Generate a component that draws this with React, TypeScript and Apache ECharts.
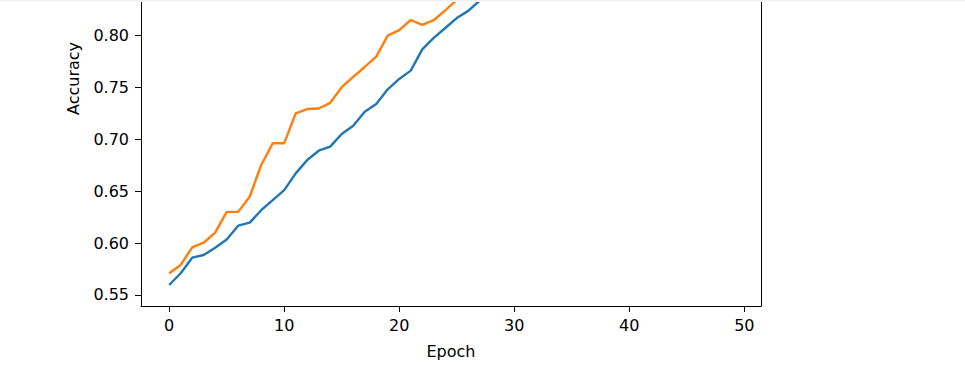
import React, { useEffect, useRef } from "react";
import * as echarts from "echarts";

// Epoch indices and accuracy values (the curves leave the visible area at the top)
const blueEpochs = [0, 1, 2, 3, 4, 5, 6, 7, 8, 9, 10, 11, 12, 13, 14, 15, 16, 17, 18, 19, 20, 21, 22, 23, 24, 25, 26, 27, 28];
const blueValues = [0.5596, 0.5709, 0.5859, 0.5885, 0.5955, 0.6035, 0.6167, 0.6196, 0.6316, 0.6414, 0.651, 0.6671, 0.68, 0.6889, 0.6928, 0.705, 0.713, 0.7264, 0.7338, 0.748, 0.758, 0.766, 0.7865, 0.7975, 0.807, 0.8166, 0.8235, 0.8335, 0.841];
const orangeEpochs = [0, 1, 2, 3, 4, 5, 6, 7, 8, 9, 10, 11, 12, 13, 14, 15, 16, 17, 18, 19, 20, 21, 22, 23, 24, 25, 26];
const orangeValues = [0.5709, 0.5789, 0.5959, 0.6003, 0.61, 0.63, 0.63, 0.6446, 0.6751, 0.696, 0.696, 0.7249, 0.729, 0.7295, 0.735, 0.75, 0.76, 0.7695, 0.7794, 0.7997, 0.805, 0.8147, 0.81, 0.8145, 0.824, 0.834, 0.842];
const xTicks = [0, 10, 20, 30, 40, 50];
const yTicks = [0.55, 0.6, 0.65, 0.7, 0.75, 0.8];

// The figure extends above the visible window: the chart div starts above the page top
const HIDDEN_TOP = 149;

export default function App() {
  const ref = useRef<HTMLDivElement>(null);
  useEffect(() => {
    document.body.style.margin = "0";
    document.body.style.overflow = "hidden";
    const chart = echarts.init(ref.current!, null, { renderer: "svg" });
    const font = "DejaVu Sans";
    const yMin = 0.5394;
    const yMax = 0.9774;
    chart.setOption({
      animation: false,
      backgroundColor: "#ffffff",
      graphic: [
        { type: "rect", shape: { x: 0, y: HIDDEN_TOP, width: 965, height: 1 }, style: { fill: "#f1f1f1" }, z: 100 },
        { type: "rect", shape: { x: 0, y: HIDDEN_TOP + 1, width: 965, height: 1 }, style: { fill: "#f9f9f9" }, z: 100 },
      ],
      grid: {
        left: 141,
        right: 204,
        top: 0,
        bottom: 61,
        show: false,
      },
      xAxis: {
        type: "value",
        min: -2.45,
        max: 51.45,
        name: "Epoch",
        nameLocation: "middle",
        nameGap: 37,
        nameTextStyle: { fontFamily: font, fontSize: 16, color: "#000" },
        splitLine: { show: false },
        axisLine: { show: true, onZero: false, lineStyle: { color: "#000", width: 1 } },
        axisTick: { show: true, length: 6, lineStyle: { color: "#000", width: 1 }, customValues: xTicks },
        axisLabel: {
          fontFamily: font,
          fontSize: 16,
          color: "#000",
          margin: 11,
          customValues: xTicks,
          formatter: (v: number) => String(v),
        },
      },
      yAxis: [
        {
          type: "value",
          position: "left",
          min: yMin,
          max: yMax,
          name: "Accuracy",
          nameLocation: "middle",
          nameGap: 60,
          nameTextStyle: { fontFamily: font, fontSize: 16, color: "#000" },
          splitLine: { show: false },
          axisLine: { show: true, onZero: false, lineStyle: { color: "#000", width: 1 } },
          axisTick: { show: true, length: 6, lineStyle: { color: "#000", width: 1 }, customValues: yTicks },
          axisLabel: {
            fontFamily: font,
            fontSize: 16,
            color: "#000",
            margin: 12,
            customValues: yTicks,
            formatter: (v: number) => v.toFixed(2),
          },
        },
        {
          type: "value",
          position: "right",
          min: yMin,
          max: yMax,
          splitLine: { show: false },
          axisLine: { show: true, onZero: false, lineStyle: { color: "#000", width: 1 } },
          axisTick: { show: false },
          axisLabel: { show: false },
        },
      ],
      series: [
        {
          type: "line",
          yAxisIndex: 0,
          data: blueEpochs.map((e, i) => [e, blueValues[i]]),
          showSymbol: false,
          lineStyle: { color: "#1f77b4", width: 2.4 },
          itemStyle: { color: "#1f77b4" },
        },
        {
          type: "line",
          yAxisIndex: 0,
          data: orangeEpochs.map((e, i) => [e, orangeValues[i]]),
          showSymbol: false,
          lineStyle: { color: "#ff7f0e", width: 2.4 },
          itemStyle: { color: "#ff7f0e" },
        },
      ],
    });
    return () => chart.dispose();
  }, []);
  return (
    <div
      ref={ref}
      style={{ position: "absolute", left: 0, top: -HIDDEN_TOP, width: 965, height: 367 + HIDDEN_TOP }}
    />
  );
}
